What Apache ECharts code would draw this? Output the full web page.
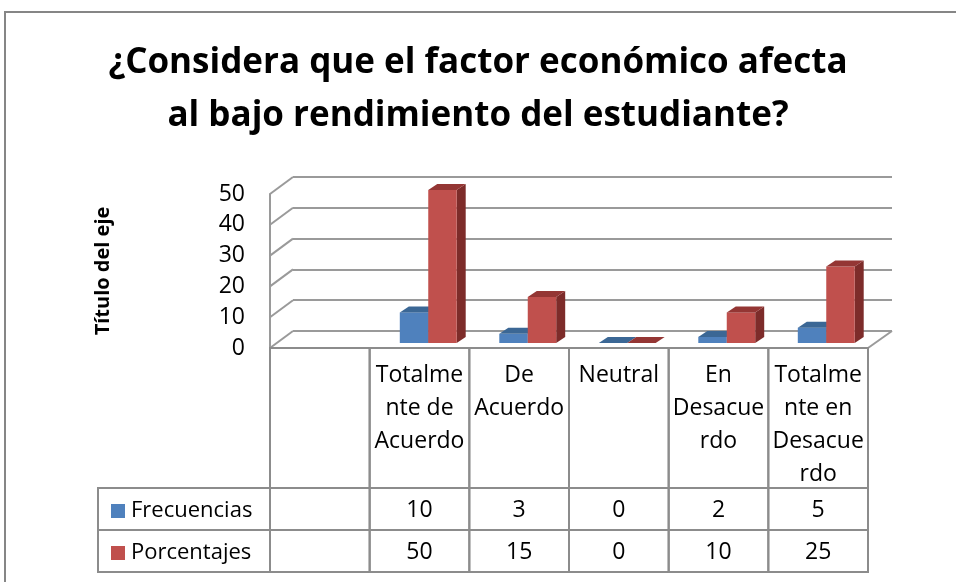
<!DOCTYPE html>
<html>
<head>
<meta charset="utf-8">
<script src="https://cdn.jsdelivr.net/npm/echarts@6/dist/echarts.min.js"></script>
<style>
html,body{margin:0;padding:0;background:#fff;}
#chart{width:956px;height:582px;}
</style>
</head>
<body>
<div id="chart"></div>
<script>
// ---- data ----
const categories = ['', 'Totalmente de Acuerdo', 'De Acuerdo', 'Neutral', 'En Desacuerdo', 'Totalmente en Desacuerdo'];
const headerLabels = ['', 'Totalme\nnte de\nAcuerdo', 'De\nAcuerdo', 'Neutral', 'En\nDesacue\nrdo', 'Totalme\nnte en\nDesacue\nrdo'];
const seriesNames = ['Frecuencias', 'Porcentajes'];
const frecuencias = [null, 10, 3, 0, 2, 5];
const porcentajes = [null, 50, 15, 0, 10, 25];
const yTicks = [0, 10, 20, 30, 40, 50];
const titleText = '¿Considera que el factor económico afecta\nal bajo rendimiento del estudiante?';
const axisTitle = 'Título del eje';

// ---- style constants ----
const FONT = 'Open Sans';
const GRID_COLOR = '#9a9a9a';
const TABLE_COLOR = '#8c8c8c';
const BLUE = '#4F81BD', BLUE_TOP = '#3B6795', BLUE_SIDE = '#375E8A';
const RED = '#C0504D', RED_TOP = '#943634', RED_SIDE = '#7D2C2A';
const WALL_DX = 23, WALL_DY = -17;
const BAR_DX = 9, BAR_DY = -6;
const ROW_HEAD_TOP = 348, ROW1_TOP = 488, ROW2_TOP = 530, ROW2_BOT = 572;

const chart = echarts.init(document.getElementById('chart'), null, {renderer: 'canvas'});

const seriesData = [frecuencias, porcentajes];
const topColors = [BLUE_TOP, RED_TOP];
const sideColors = [BLUE_SIDE, RED_SIDE];

function barSeries(si) {
  return {
    type: 'custom',
    name: seriesNames[si],
    xAxisIndex: 2, yAxisIndex: 2,
    itemStyle: {color: si === 0 ? BLUE : RED},
    data: seriesData[si].map((v, i) => [i, v]),
    encode: {x: 0, y: 1},
    clip: false,
    z: 5 + si,
    renderItem: function (params, api) {
      const v = api.value(1);
      if (v === null || v === undefined || isNaN(v)) return null;
      const idx = api.value(0);
      const top = api.coord([idx, v]);
      const base = api.coord([idx, 0]);
      const bw = api.size([1, 0])[0] * 0.286;
      const x = top[0] + (si === 0 ? -bw : 0);
      const yt = top[1], yb = base[1];
      const children = [];
      if (yb - yt > 0.5) {
        children.push({type: 'polygon', shape: {points: [[x + bw, yt], [x + bw + BAR_DX, yt + BAR_DY], [x + bw + BAR_DX, yb + BAR_DY], [x + bw, yb]]}, style: {fill: sideColors[si]}});
        children.push({type: 'rect', shape: {x: x, y: yt, width: bw, height: yb - yt}, style: {fill: api.visual('color')}});
      }
      children.push({type: 'polygon', shape: {points: [[x, yt], [x + bw, yt], [x + bw + BAR_DX, yt + BAR_DY], [x + BAR_DX, yt + BAR_DY]]}, style: {fill: topColors[si]}});
      return {type: 'group', children: children};
    }
  };
}

const option = {
  animation: false,
  color: [BLUE, RED],
  title: {
    text: titleText,
    left: 'center',
    top: 32,
    textStyle: {fontFamily: FONT, fontWeight: 'bold', fontSize: 35, lineHeight: 53, color: '#000'}
  },
  legend: {
    orient: 'vertical',
    left: 106,
    top: 495,
    itemWidth: 14,
    itemHeight: 14,
    itemGap: 20,
    icon: 'rect',
    data: seriesNames,
    selectedMode: false,
    textStyle: {fontFamily: FONT, fontSize: 22, color: '#000', lineHeight: 22, padding: [0, 0, 0, 1]}
  },
  grid: [
    {left: 270, right: 88, top: 194, bottom: 234},   // front plane
    {left: 293, right: 64, top: 177, bottom: 251},   // back wall
    {left: 279, right: 80, top: 190, bottom: 239}    // bar plane
  ],
  xAxis: [
    {gridIndex: 0, type: 'category', data: categories, show: false},
    {gridIndex: 1, type: 'category', data: categories, show: false},
    {gridIndex: 2, type: 'category', data: categories, show: false}
  ],
  yAxis: [
    {gridIndex: 0, type: 'value', min: 0, max: 50, interval: 10,
     axisLine: {show: true, lineStyle: {color: GRID_COLOR, width: 2}},
     axisTick: {show: false}, splitLine: {show: false},
     axisLabel: {margin: 25, fontFamily: FONT, fontSize: 23, color: '#000'},
     name: axisTitle, nameLocation: 'middle', nameRotate: 90, nameGap: 157,
     nameTextStyle: {fontFamily: FONT, fontWeight: 'bold', fontSize: 20, color: '#000'}},
    {gridIndex: 1, type: 'value', min: 0, max: 50, interval: 10,
     axisLine: {show: false}, axisTick: {show: false}, axisLabel: {show: false},
     splitLine: {show: true, lineStyle: {color: GRID_COLOR, width: 2}}},
    {gridIndex: 2, type: 'value', min: 0, max: 50, interval: 10, show: false}
  ],
  graphic: [
    {type: 'rect', shape: {x: 5, y: 12, width: 1000, height: 700}, style: {fill: 'none', stroke: '#868686', lineWidth: 2}, z: 0, silent: true},
    {type: 'rect', shape: {x: 98, y: ROW1_TOP, width: 172, height: ROW2_TOP - ROW1_TOP}, style: {fill: 'none', stroke: TABLE_COLOR, lineWidth: 2}, silent: true},
    {type: 'rect', shape: {x: 98, y: ROW2_TOP, width: 172, height: ROW2_BOT - ROW2_TOP}, style: {fill: 'none', stroke: TABLE_COLOR, lineWidth: 2}, silent: true}
  ],
  series: [
    // side wall diagonals + floor right edge
    {
      type: 'custom', xAxisIndex: 0, yAxisIndex: 0, silent: true, clip: false, z: 1,
      data: yTicks.map(v => [0, v]), encode: {x: 0, y: 1},
      renderItem: function (params, api) {
        const y = api.coord([0, api.value(1)])[1];
        const cs = params.coordSys;
        const children = [{type: 'line', shape: {x1: cs.x, y1: y, x2: cs.x + WALL_DX, y2: y + WALL_DY}, style: {stroke: GRID_COLOR, lineWidth: 2}}];
        if (api.value(1) === 0) {
          children.push({type: 'line', shape: {x1: cs.x + cs.width, y1: y, x2: cs.x + cs.width + 24, y2: y + WALL_DY}, style: {stroke: GRID_COLOR, lineWidth: 2}});
        }
        return {type: 'group', children: children};
      }
    },
    barSeries(0),
    barSeries(1),
    // data table
    {
      type: 'custom', xAxisIndex: 0, yAxisIndex: 0, silent: true, clip: false, z: 3,
      data: categories.map((c, i) => [i, 0]), encode: {x: 0, y: 1},
      renderItem: function (params, api) {
        const i = api.value(0);
        const cx = api.coord([i, 0])[0];
        const w = api.size([1, 0])[0];
        const x = cx - w / 2;
        const line = {stroke: TABLE_COLOR, lineWidth: 2, fill: 'none'};
        const txt = {fontFamily: FONT, fontSize: 23, fill: '#000', align: 'center'};
        const f = frecuencias[i], p = porcentajes[i];
        return {type: 'group', children: [
          {type: 'rect', shape: {x: x, y: ROW_HEAD_TOP, width: w, height: ROW1_TOP - ROW_HEAD_TOP}, style: line},
          {type: 'rect', shape: {x: x, y: ROW1_TOP, width: w, height: ROW2_TOP - ROW1_TOP}, style: line},
          {type: 'rect', shape: {x: x, y: ROW2_TOP, width: w, height: ROW2_BOT - ROW2_TOP}, style: line},
          {type: 'text', style: Object.assign({text: headerLabels[i], x: cx, y: 359, verticalAlign: 'top', lineHeight: 33}, txt)},
          {type: 'text', style: Object.assign({text: f === null ? '' : String(f), x: cx, y: (ROW1_TOP + ROW2_TOP) / 2 + 1, verticalAlign: 'middle'}, txt)},
          {type: 'text', style: Object.assign({text: p === null ? '' : String(p), x: cx, y: (ROW2_TOP + ROW2_BOT) / 2 + 1, verticalAlign: 'middle'}, txt)}
        ]};
      }
    }
  ]
};
chart.setOption(option);
</script>
</body>
</html>
